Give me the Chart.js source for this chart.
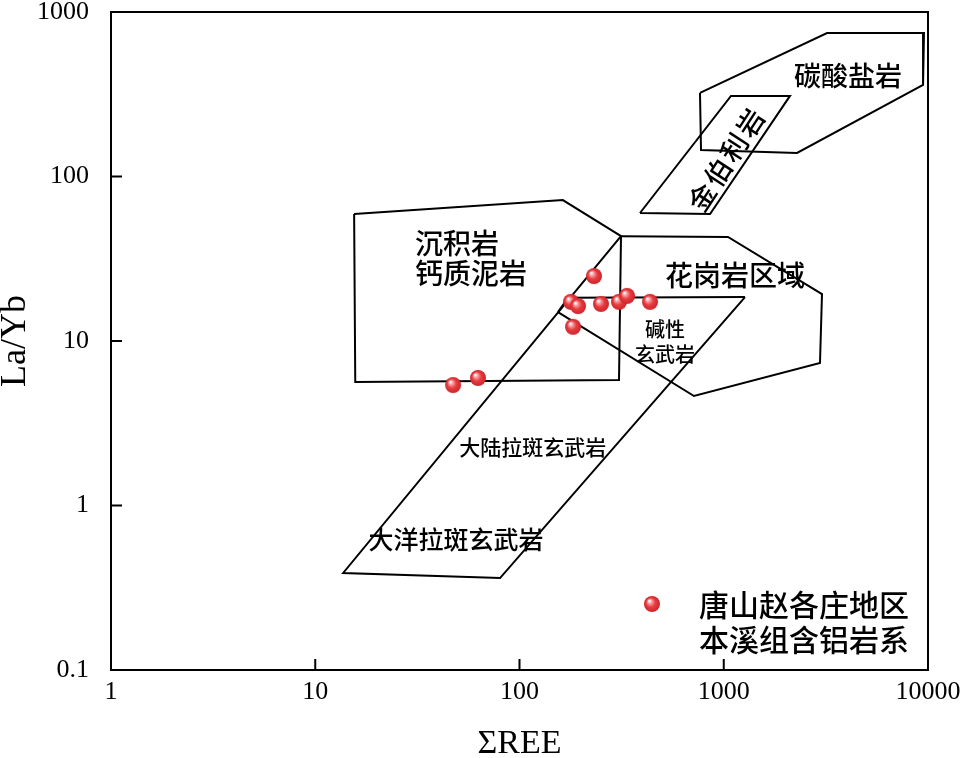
<!DOCTYPE html>
<html>
<head>
<meta charset="utf-8">
<script src="https://cdn.jsdelivr.net/npm/chart.js@4"></script>
<style>
  body { margin: 0; background: #fff; }
</style>
</head>
<body>
<canvas id="chart" width="965" height="758"></canvas>
<script>
// sample points: ΣREE vs La/Yb
const sampleREE  = [231.6, 178.7, 193.4, 250.6, 307, 336, 435.5, 182.8, 47.3, 62.6];
const sampleLaYb = [24.8, 17.3, 16.3, 16.8, 17.3, 18.8, 17.3, 12.2, 5.40, 5.96];

// field boundaries
const sedREE   = [15.5, 163, 314, 307, 15.7, 15.5];
const sedLaYb  = [59.2, 71.9, 43.4, 5.80, 5.64, 59.2];
const graREE   = [314, 1049, 3027, 2959, 715, 154.3];
const graLaYb  = [43.4, 42.9, 19.3, 7.35, 4.63, 15.0];
const alkREE   = [154.3, 172.8, 1271];
const alkLaYb  = [15.0, 18.3, 18.5];
const thoREE   = [314, 13.7, 80.3, 1271];
const thoLaYb  = [43.4, 0.389, 0.362, 18.5];
const kimREE   = [389, 857, 2110, 1085, 389];
const kimLaYb  = [60, 59.2, 309, 309, 60];
const carbREE  = [765, 3204, 9557, 9457, 2285, 774, 765];
const carbLaYb = [322, 745, 745, 360, 139, 145, 322];

const xTicks = [1, 10, 100, 1000, 10000];
const yTicks = [0.1, 1, 10, 100, 1000];

const toPts = (xs, ys) => xs.map((v, i) => ({ x: v, y: ys[i] }));

function sphere(r) {
  const c = document.createElement('canvas');
  c.width = c.height = 2 * r + 2;
  const g = c.getContext('2d');
  const m = r + 1;
  const grad = g.createRadialGradient(m - r * 0.35, m - r * 0.4, r * 0.05, m, m, r);
  grad.addColorStop(0, '#ffffff');
  grad.addColorStop(0.22, '#f7a0a2');
  grad.addColorStop(0.55, '#ea3b40');
  grad.addColorStop(1, '#c8262b');
  g.fillStyle = grad;
  g.beginPath();
  g.arc(m, m, r, 0, Math.PI * 2);
  g.fill();
  return c;
}
const ball = sphere(8);

const fieldLine = (xs, ys) => ({
  data: toPts(xs, ys),
  showLine: true,
  borderColor: '#000',
  borderWidth: 2,
  pointRadius: 0,
  fill: false,
  order: 1
});

const cjk = '"Noto Sans CJK SC", sans-serif';
const labels = [
  { text: '碳酸盐岩', x: 4057, y: 408, size: 27, align: 'center' },
  { text: '沉积岩', x: 30.8, y: 39.4, size: 28, align: 'left' },
  { text: '钙质泥岩', x: 30.8, y: 25.9, size: 28, align: 'left' },
  { text: '花岗岩区域', x: 1135, y: 25.2, size: 28, align: 'center' },
  { text: '碱性', x: 516, y: 11.8, size: 20, align: 'center' },
  { text: '玄武岩', x: 516, y: 8.34, size: 20, align: 'center' },
  { text: '大陆拉斑玄武岩', x: 116, y: 2.27, size: 21, align: 'center' },
  { text: '大洋拉斑玄武岩', x: 48.9, y: 0.617, size: 25, align: 'center' }
];

const decor = {
  id: 'decor',
  afterDatasetsDraw(chart) {
    const { ctx, chartArea: a, scales: { x, y } } = chart;
    ctx.save();
    ctx.strokeStyle = '#000';
    ctx.lineWidth = 2;
    ctx.strokeRect(a.left, a.top, a.right - a.left, a.bottom - a.top);
    ctx.beginPath();
    xTicks.slice(1, -1).forEach(v => {
      const p = x.getPixelForValue(v);
      ctx.moveTo(p, a.bottom); ctx.lineTo(p, a.bottom - 11);
    });
    yTicks.slice(1, -1).forEach(v => {
      const p = y.getPixelForValue(v);
      ctx.moveTo(a.left, p); ctx.lineTo(a.left + 11, p);
    });
    ctx.stroke();

    ctx.fillStyle = '#000';
    ctx.textBaseline = 'middle';
    labels.forEach(l => {
      ctx.font = '500 ' + l.size + 'px ' + cjk;
      ctx.textAlign = l.align;
      ctx.fillText(l.text, x.getPixelForValue(l.x), y.getPixelForValue(l.y));
    });

    // kimberlite label, rotated along the field
    const kx = x.getPixelForValue(1026), ky = y.getPixelForValue(126);
    ctx.translate(kx, ky);
    ctx.rotate(-57 * Math.PI / 180);
    ctx.font = '500 27px ' + cjk;
    ctx.textAlign = 'center';
    '金伯利岩'.split('').forEach((ch, i) => ctx.fillText(ch, (i - 1.5) * 29.5, 0));
    ctx.setTransform(1, 0, 0, 1, 0, 0);

    // legend
    ctx.drawImage(ball, a.left + 532, a.top + 583);
    ctx.font = '500 30px ' + cjk;
    ctx.textAlign = 'left';
    ctx.fillText('唐山赵各庄地区', a.left + 588, a.top + 593);
    ctx.fillText('本溪组含铝岩系', a.left + 588, a.top + 628);
    ctx.restore();
  }
};

const serif = '"Liberation Serif", "Times New Roman", serif';

new Chart(document.getElementById('chart'), {
  type: 'scatter',
  data: {
    datasets: [
      {
        data: toPts(sampleREE, sampleLaYb),
        pointStyle: ball,
        pointRadius: 8,
        order: 0
      },
      fieldLine(sedREE, sedLaYb),
      fieldLine(graREE, graLaYb),
      fieldLine(alkREE, alkLaYb),
      fieldLine(thoREE, thoLaYb),
      fieldLine(kimREE, kimLaYb),
      fieldLine(carbREE, carbLaYb)
    ]
  },
  options: {
    responsive: false,
    animation: false,
    devicePixelRatio: 1,
    layout: { padding: { top: 12, right: 37, left: 0, bottom: 0 } },
    plugins: { legend: { display: false }, tooltip: { enabled: false } },
    scales: {
      x: {
        type: 'logarithmic',
        min: 1, max: 10000,
        afterBuildTicks: s => { s.ticks = xTicks.map(v => ({ value: v })); },
        afterFit: s => { s.height = 88; s.paddingLeft = 0; s.paddingRight = 0; },
        grid: { display: false, drawTicks: false },
        border: { display: false },
        ticks: { color: '#000', font: { family: serif, size: 26 }, padding: 7, maxRotation: 0, callback: v => String(v) },
        title: { display: true, text: 'ΣREE', color: '#000', font: { family: serif, size: 34, lineHeight: 0.8 }, padding: 0 }
      },
      y: {
        type: 'logarithmic',
        min: 0.1, max: 1000,
        afterBuildTicks: s => { s.ticks = yTicks.map(v => ({ value: v })); },
        afterFit: s => { s.width = 111; s.paddingTop = 0; s.paddingBottom = 0; },
        grid: { display: false, drawTicks: false },
        border: { display: false },
        ticks: { color: '#000', font: { family: serif, size: 26 }, padding: 22, callback: v => String(v) },
        title: { display: true, text: 'La/Yb', color: '#000', font: { family: serif, size: 36, lineHeight: 0.85 }, padding: 0 }
      }
    }
  },
  plugins: [decor]
});
</script>
</body>
</html>
